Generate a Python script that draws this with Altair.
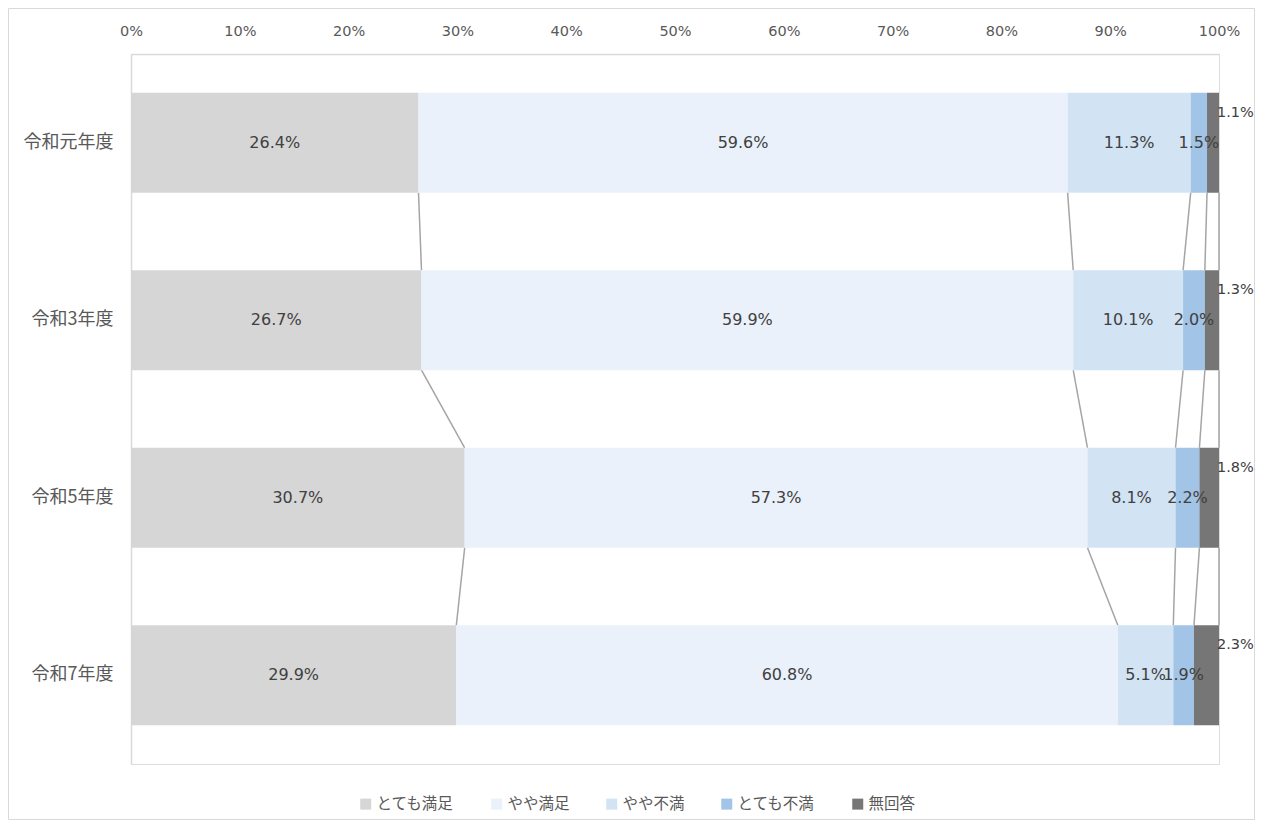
import altair as alt
import pandas as pd

years = ["令和元年度", "令和3年度", "令和5年度", "令和7年度"]
categories = ["とても満足", "やや満足", "やや不満", "とても不満", "無回答"]
very_satisfied = [26.4, 26.7, 30.7, 29.9]
satisfied = [59.6, 59.9, 57.3, 60.8]
dissatisfied = [11.3, 10.1, 8.1, 5.1]
very_dissatisfied = [1.5, 2.0, 2.2, 1.9]
no_answer = [1.1, 1.3, 1.8, 2.3]
x_ticks = [0, 10, 20, 30, 40, 50, 60, 70, 80, 90, 100]

colors = ["#d6d6d6", "#eaf1fa", "#d2e3f4", "#a2c4e6", "#767676"]

series = [very_satisfied, satisfied, dissatisfied, very_dissatisfied, no_answer]

rows = []
cum_ends = []
for i, y in enumerate(years):
    vals = [s[i] for s in series]
    total = sum(vals)
    acc = 0.0
    ends = []
    for k, c in enumerate(categories):
        start = acc / total * 100
        acc += vals[k]
        end = acc / total * 100
        ends.append(end)
        rows.append({"year": y, "cat": c, "value": vals[k], "start": start,
                     "end": end, "mid": (start + end) / 2,
                     "label": f"{vals[k]:.1f}%"})
    cum_ends.append(ends)
df = pd.DataFrame(rows)

link_rows = []
for i in range(len(years) - 1):
    for k in range(len(categories)):
        link_rows.append({"y": years[i], "y2": years[i + 1],
                          "x": cum_ends[i][k], "x2": cum_ends[i + 1][k]})
links = pd.DataFrame(link_rows)

W, H = 1088, 710
NUM_FONT = "DejaVu Sans"
JP_FONT = "Noto Sans CJK JP"

yscale = alt.Scale(domain=years, paddingInner=0.437, paddingOuter=0.218)
xscale = alt.Scale(domain=[0, 100], nice=False)

x_axis = alt.Axis(orient="top", values=x_ticks, labelExpr="datum.value + '%'",
                  ticks=False, grid=False, domainColor="#d9d9d9", domainWidth=1.5,
                  labelColor="#595959", labelFont=NUM_FONT, labelFontSize=14.5,
                  labelPadding=16, labelFlush=False, title=None)
y_axis = alt.Axis(ticks=False, domainColor="#d9d9d9", domainWidth=1.5,
                  labelColor="#595959", labelFont=JP_FONT, labelFontSize=18,
                  labelPadding=18, title=None)

border = alt.Chart(alt.Data(values=[{}])).mark_rect(
    fill="transparent", stroke="#d9d9d9", strokeWidth=1
).encode(x=alt.value(-122.5), x2=alt.value(1123.5),
         y=alt.value(-45.5), y2=alt.value(765.5))

rules = alt.Chart(links).mark_rule(color="#a5a5a5", strokeWidth=1.5).encode(
    x=alt.X("x:Q", scale=xscale, axis=x_axis),
    x2="x2:Q",
    y=alt.Y("y:N", scale=yscale, sort=years, axis=y_axis, bandPosition=1),
    y2=alt.Y2("y2", bandPosition=0),
)

bars = alt.Chart(df).mark_bar().encode(
    x=alt.X("start:Q", scale=xscale, axis=x_axis),
    x2="end:Q",
    y=alt.Y("year:N", scale=yscale, sort=years, axis=y_axis),
    color=alt.Color("cat:N", scale=alt.Scale(domain=categories, range=colors),
                    legend=alt.Legend(title=None, orient="none", direction="horizontal",
                                      legendX=227, legendY=742, symbolType="square",
                                      symbolSize=121, symbolStrokeWidth=0,
                                      labelFont=JP_FONT, labelFontSize=15.5,
                                      labelColor="#595959", labelOffset=3,
                                      columnPadding=34, padding=0)),
)

inner = alt.Chart(df).transform_filter(alt.datum.cat != "無回答").mark_text(
    font=NUM_FONT, fontSize=16, color="#404040"
).encode(
    x=alt.X("mid:Q", scale=xscale),
    y=alt.Y("year:N", scale=yscale, sort=years),
    text="label:N",
)

outer = alt.Chart(df).transform_filter(alt.datum.cat == "無回答").mark_text(
    font=NUM_FONT, fontSize=14.5, color="#404040", align="left", dx=-2, dy=-30
).encode(
    x=alt.X("end:Q", scale=xscale),
    y=alt.Y("year:N", scale=yscale, sort=years),
    text="label:N",
)

chart = alt.layer(border, rules, bars, inner, outer).properties(
    width=W, height=H,
    autosize=alt.AutoSizeParams(type="none"),
    padding={"left": 123, "top": 46, "right": 36, "bottom": 57},
).configure_view(stroke=None).configure(background="white")

chart.save("out.html", embed_options={"renderer": "svg", "actions": False})
